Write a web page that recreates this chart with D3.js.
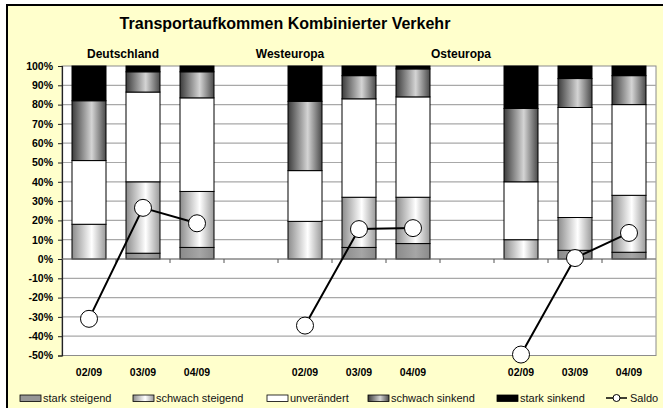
<!DOCTYPE html>
<html><head><meta charset="utf-8">
<script src="https://cdn.jsdelivr.net/npm/d3@7"></script>
<style>body{margin:0;background:#fff}svg{display:block;font-family:Arial,"Liberation Sans",sans-serif}</style>
</head><body><svg id="c" width="663" height="408"></svg>
<script>
const title = "Transportaufkommen Kombinierter Verkehr";
const groups = ["Deutschland","Westeuropa","Osteuropa"];
const periods = ["02/09","03/09","04/09"];
const seriesNames = ["stark steigend","schwach steigend","unverändert","schwach sinkend","stark sinkend"];
const starkSteigend   = [0, 3, 6,    0, 6, 8,    0, 4.5, 3.5];
const schwachSteigend = [18, 37, 29, 19.5, 26, 24, 10, 17, 29.5];
const unveraendert    = [33, 46.5, 48.5, 26.3, 51, 52, 30, 57, 47];
const schwachSinkend  = [31, 10.5, 13.5, 35.9, 12, 14.5, 38, 15, 15];
const starkSinkend    = [18, 3, 3,   18.3, 5, 1.5, 22, 6.5, 5];
const saldo           = [-31, 26.5, 18.5, -34.5, 15.5, 16, -49.5, 0.5, 13.5];
const yTicks = [-50,-40,-30,-20,-10,0,10,20,30,40,50,60,70,80,90,100];

const svg = d3.select("#c");
const defs = svg.append("defs");
function grad(id, edgeL, mid, edgeR){
  const g = defs.append("linearGradient").attr("id", id).attr("x1","0%").attr("x2","100%").attr("y1","0%").attr("y2","0%");
  g.append("stop").attr("offset","0%").attr("stop-color",edgeL);
  g.append("stop").attr("offset","58%").attr("stop-color",mid);
  g.append("stop").attr("offset","100%").attr("stop-color",edgeR);
}
grad("gSS", "#8c8c8c", "#ffffff", "#9a9a9a");
grad("gSK", "#3c3c3c", "#d4d4d4", "#4a4a4a");
grad("gST", "#8a8a8a", "#a6a6a6", "#8a8a8a");
const fills = ["url(#gST)","url(#gSS)","#ffffff","url(#gSK)","#000000"];
const legendFills = ["#969696","url(#gSS)","#ffffff","url(#gSK)","#000000"];

// background frame
svg.append("rect").attr("x",7).attr("y",5).attr("width",680).attr("height",430)
  .attr("fill","#FFFFCC").attr("stroke","#000").attr("stroke-width",2);

// slots: 3 groups with gaps
const slots = [];
groups.forEach((g,gi)=>{ periods.forEach(p=>slots.push(g+"|"+p)); if(gi<groups.length-1) slots.push("gap"+gi); });
const x = d3.scaleBand().domain(slots).range([62,656]).paddingInner(0).paddingOuter(0);
const y = d3.scaleLinear().domain([-50,100]).range([355.5,66]);
const barW = 34;

// plot area
svg.append("rect").attr("x",62).attr("y",66).attr("width",594).attr("height",y(-50)-66)
  .attr("fill","#fff").attr("stroke","#8c8c8c").attr("stroke-width",1);
// gridlines
svg.append("g").selectAll("line").data(yTicks.filter(t=>t!==-50&&t!==100)).join("line")
  .attr("x1",62).attr("x2",656).attr("y1",d=>y(d)).attr("y2",d=>y(d))
  .attr("stroke","#a8a8a8").attr("stroke-width",1.2);

// bars
const series = [starkSteigend, schwachSteigend, unveraendert, schwachSinkend, starkSinkend];
const rows = [];
groups.forEach((g,gi)=>periods.forEach((p,pi)=>{
  const i = gi*3+pi; const r = {key:g+"|"+p};
  seriesNames.forEach((s,si)=>r[s]=series[si][i]); rows.push(r);
}));
const stack = d3.stack().keys(seriesNames)(rows);
stack.forEach((layer,li)=>{
  svg.append("g").selectAll("rect").data(layer.filter(d=>d[1]-d[0]>0)).join("rect")
    .attr("x",d=>x(d.data.key)+(x.bandwidth()-barW)/2)
    .attr("y",d=>y(d[1])).attr("width",barW).attr("height",d=>y(d[0])-y(d[1]))
    .attr("fill",fills[li]).attr("stroke","#000").attr("stroke-width",1);
});

// y axis
const yAxis = d3.axisLeft(y).tickValues(yTicks).tickSize(4).tickPadding(5).tickFormat(d=>d+"%");
const ya = svg.append("g").attr("transform","translate(62,0)").call(yAxis);
ya.select(".domain").attr("stroke","#222").attr("stroke-width",1.2);
ya.selectAll(".tick line").attr("stroke","#222");
ya.selectAll("text").attr("font-size","10.5px").attr("font-weight","bold").attr("fill","#000");

// x axis at 0 with boundary ticks
svg.append("line").attr("x1",62).attr("x2",656).attr("y1",y(0)).attr("y2",y(0)).attr("stroke","#777").attr("stroke-width",1);
const bounds = d3.range(1,slots.length).map(i=>x(slots[i]));
svg.append("g").selectAll("line").data(bounds).join("line")
  .attr("x1",d=>d).attr("x2",d=>d).attr("y1",y(0)).attr("y2",y(0)+4).attr("stroke","#555");
// category labels
svg.append("g").selectAll("text").data(rows).join("text")
  .attr("x",d=>x(d.key)+x.bandwidth()/2).attr("y",375.5).attr("text-anchor","middle")
  .attr("font-size","10.5px").attr("font-weight","bold").text(d=>d.key.split("|")[1]);

// saldo lines
const lineGen = d3.line().x(d=>x(d.key)+x.bandwidth()/2).y(d=>y(d.v));
groups.forEach((g,gi)=>{
  const pts = periods.map((p,pi)=>({key:g+"|"+p, v:saldo[gi*3+pi]}));
  svg.append("path").datum(pts).attr("d",lineGen).attr("fill","none").attr("stroke","#000").attr("stroke-width",2);
  svg.append("g").selectAll("circle").data(pts).join("circle")
    .attr("cx",d=>x(d.key)+x.bandwidth()/2).attr("cy",d=>y(d.v)).attr("r",8.5)
    .attr("fill","#fff").attr("stroke","#000").attr("stroke-width",1);
});

// title & group labels
svg.append("text").attr("x",285).attr("y",29).attr("text-anchor","middle")
  .attr("font-size","16px").attr("font-weight","bold").text(title);
const groupLabelX = [123, 290, 461];
groups.forEach((g,gi)=>svg.append("text").attr("x",groupLabelX[gi]).attr("y",58).attr("text-anchor","middle")
  .attr("font-size","12px").attr("font-weight","bold").text(g));

// legend
const legX = [20, 133, 267, 368, 497];
seriesNames.forEach((s,i)=>{
  svg.append("rect").attr("x",legX[i]).attr("y",395).attr("width",21).attr("height",6.5)
    .attr("fill",legendFills[i]).attr("stroke","#000").attr("stroke-width",0.8);
  svg.append("text").attr("x",legX[i]+23).attr("y",402).attr("font-size","11px").attr("fill","#111").text(s);
});
svg.append("line").attr("x1",606).attr("x2",627).attr("y1",398).attr("y2",398).attr("stroke","#000").attr("stroke-width",1.5);
svg.append("circle").attr("cx",616.5).attr("cy",398).attr("r",3.5).attr("fill","#fff").attr("stroke","#000");
svg.append("text").attr("x",630).attr("y",402).attr("font-size","11px").attr("fill","#111").text("Saldo");
</script></body></html>
